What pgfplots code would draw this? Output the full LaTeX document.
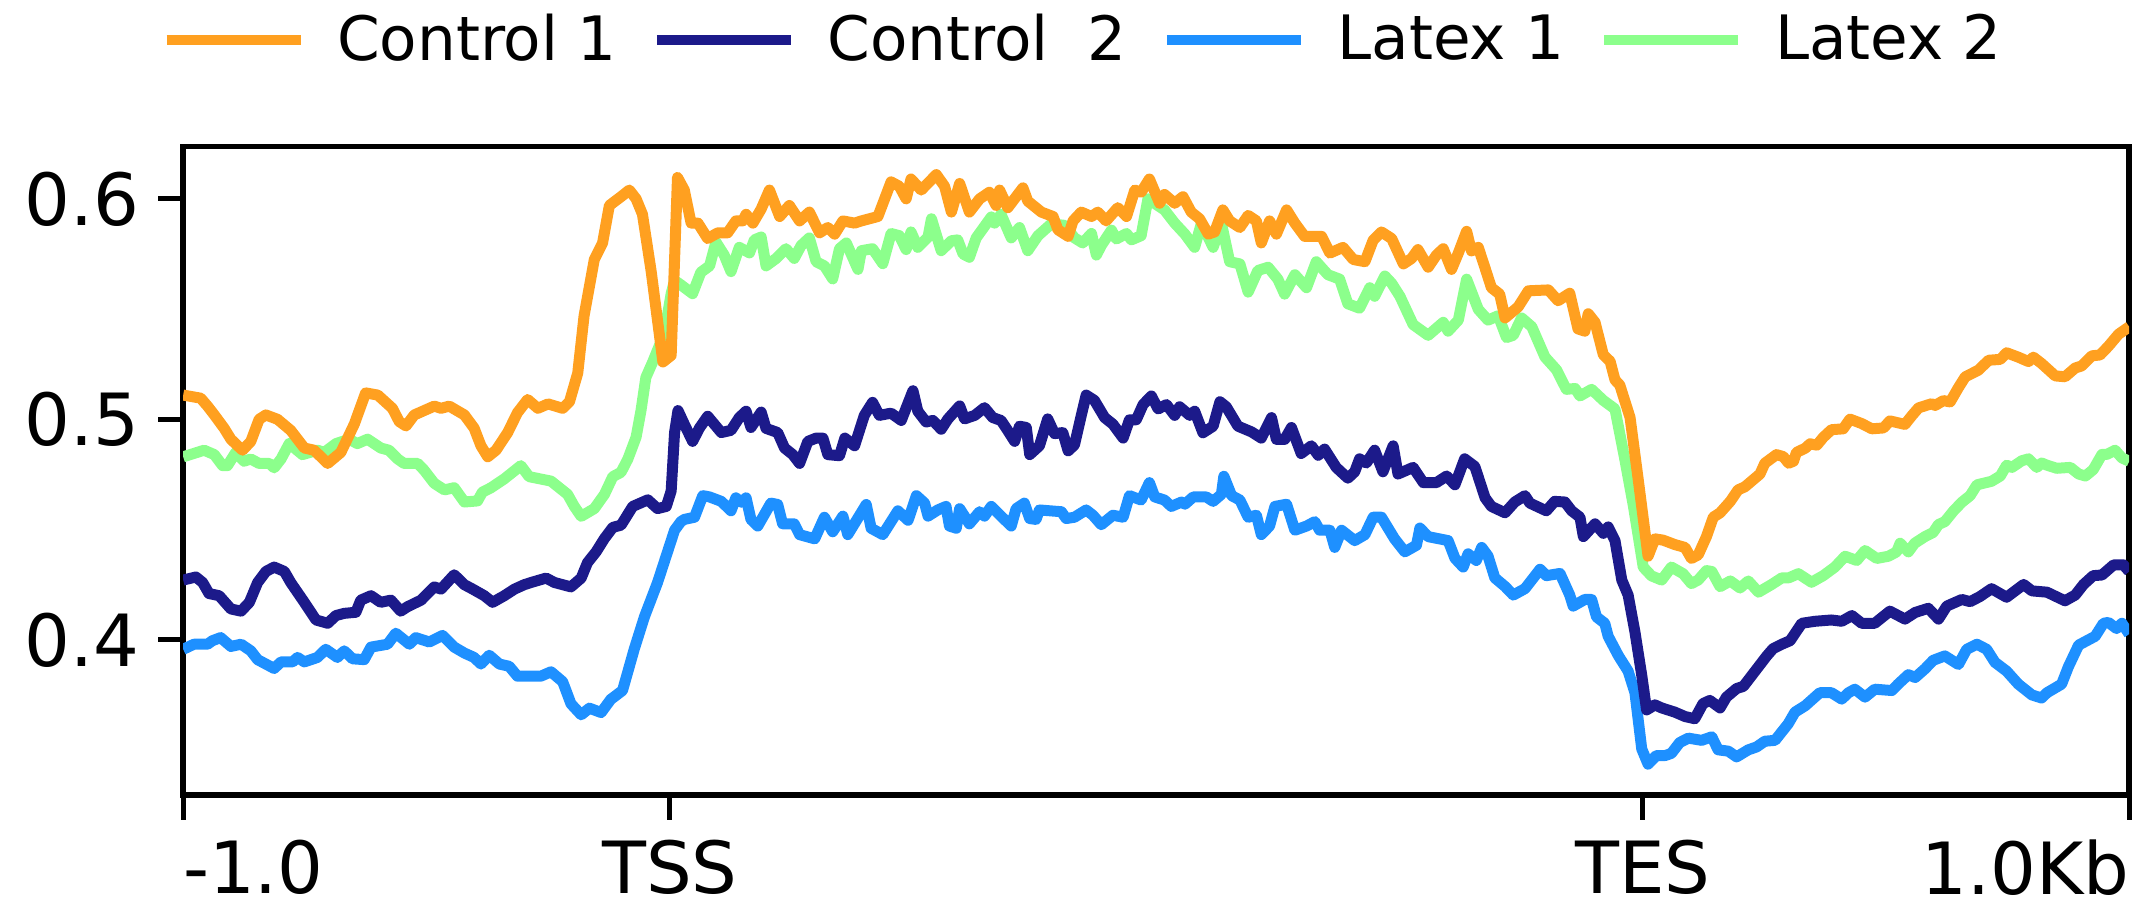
\documentclass[border=0pt]{standalone}
\usepackage{fontspec}
\setmainfont{DejaVu Sans}
\usepackage{pgfplots}
\pgfplotsset{compat=1.18}

\definecolor{cOrange}{HTML}{FFA020}
\definecolor{cNavy}{HTML}{1C1A8A}
\definecolor{cBlue}{HTML}{1E90FF}
\definecolor{cGreen}{HTML}{8CFF8C}

\begin{document}
\begin{tikzpicture}
\begin{axis}[
    name=ax,
    scale only axis,
    width=486.5pt, height=162.1pt,
    xmin=0, xmax=400, ymin=0.3297, ymax=0.6238,
    axis line style={line width=1.4pt},
    tick align=outside,
    tick pos=left,
    major tick length=6.25pt,
    every tick/.style={black, line width=1.2pt},
    xtick={0,100,300,400},
    xticklabels={\rlap{-1.0},TSS,TES,\llap{1.0Kb}},
    ytick={0.4,0.5,0.6},
    yticklabels={0.4,0.5,0.6},
    tick label style={font=\fontsize{18}{18}\selectfont},
    xticklabel style={yshift=-1.5pt},
    yticklabel style={xshift=-1.25pt},
    legend columns=4,
    legend style={at={(0.4617,1.164)}, anchor=center, draw=none, fill=none,
        font=\fontsize{15.3}{16}\selectfont, inner sep=0pt,
        nodes={inner sep=0pt},
        /tikz/every odd column/.append style={column sep=7.9pt},
        /tikz/every even column/.append style={column sep=8.8pt}},
    legend image code/.code={\draw[#1, line width=2.5pt] (0pt,0pt) -- (33.5pt,0pt);},
    every axis plot/.append style={line width=2.75pt, line join=round},
]
\addlegendimage{cOrange}\addlegendentry{Control 1}
\addlegendimage{cNavy}\addlegendentry{Control\ \ 2}
\addlegendimage{cBlue}\addlegendentry{Latex 1}
\addlegendimage{cGreen}\addlegendentry{Latex 2}

% Latex 2
\addplot[cGreen, forget plot] coordinates {
(0,0.483) (4.3,0.486) (6.4,0.484) (8.1,0.479) (9.1,0.479) (10.8,0.485) (12.5,0.481) (13.9,0.482)
(15.6,0.480) (17.7,0.480) (18.7,0.478) (20.1,0.482) (21.8,0.489) (24.5,0.484) (27.6,0.486) (29,0.485)
(31.4,0.489) (34.1,0.491) (35.8,0.489) (37.9,0.491) (40.6,0.487) (42.3,0.486) (44.1,0.482) (45.4,0.480)
(48.2,0.480) (49.5,0.477) (51.6,0.471) (53.7,0.468) (55.7,0.469) (57.8,0.4625) (60.5,0.463) (61.5,0.467)
(63.3,0.469) (66,0.473) (69.4,0.479) (71.1,0.474) (75.6,0.472) (79,0.466) (80.4,0.4605) (81.8,0.456)
(84.5,0.4595) (86.6,0.466) (88.3,0.474) (90,0.476) (91.4,0.482) (93.1,0.492) (94.1,0.504) (95.1,0.519)
(96.5,0.526) (98.9,0.539) (100.3,0.557) (101,0.563) (102.3,0.561) (104.7,0.557) (106.4,0.5667) (108.2,0.5696)
(109.5,0.5804) (111.2,0.5745) (112.6,0.567) (114.3,0.578) (116.4,0.5755) (117.4,0.5814) (118.8,0.5827) (119.8,0.5696)
(121.9,0.573) (123.9,0.5774) (125.6,0.573) (127,0.5788) (128.7,0.5823) (130.1,0.5715) (131.8,0.5696) (133.5,0.5637)
(134.9,0.5774) (136.3,0.580) (138.7,0.568) (139.4,0.5765) (141.7,0.5774) (143.8,0.5706) (145.5,0.5843) (147.2,0.5833)
(148.6,0.577) (149.6,0.585) (151,0.578) (153.1,0.5827) (153.8,0.591) (155.8,0.5765) (157.9,0.581) (159.2,0.5814)
(160.3,0.575) (161.6,0.5735) (163,0.5823) (166.1,0.5918) (166.8,0.589) (168.1,0.593) (170.2,0.5823) (171.9,0.587)
(173.6,0.5765) (175.7,0.5833) (178.4,0.5886) (181.2,0.588) (183.2,0.5823) (184.9,0.580) (186.7,0.5843) (187.7,0.5745)
(188.7,0.5788) (190.8,0.5858) (191.8,0.5818) (193.9,0.5843) (194.9,0.5814) (196.9,0.5833) (198.3,0.600) (201.7,0.595)
(203.8,0.589) (205.9,0.584) (207.9,0.578) (209.3,0.589) (211.7,0.578) (213.4,0.589) (215.1,0.5715) (217.2,0.5705)
(218.9,0.5577) (220.9,0.5675) (223,0.569) (225,0.5636) (226.4,0.5568) (228.5,0.5656) (230.9,0.5597) (232.9,0.5715)
(235.3,0.5656) (237.7,0.5636) (239.4,0.5524) (241.8,0.5504) (243.9,0.5597) (244.9,0.5558) (247,0.565) (248.4,0.5617)
(250.1,0.5558) (252.8,0.543) (255.9,0.5381) (259,0.544) (260,0.540) (262.1,0.545) (263.8,0.5636) (266.2,0.5499)
(268.2,0.545) (270.3,0.547) (272,0.5371) (273.4,0.5381) (275.1,0.546) (277.2,0.542) (279.9,0.5283) (282.3,0.5224)
(284.3,0.5136) (286.1,0.514) (287.1,0.5106) (289.5,0.5136) (291.9,0.5086) (294.3,0.5047) (296.3,0.4821) (298.1,0.4605)
(300.1,0.433) (301.8,0.429) (303.9,0.4271) (305.9,0.433) (308.3,0.43) (310,0.4255) (311.4,0.4271) (313.1,0.4314)
(314.2,0.431) (315.9,0.4241) (318,0.4267) (320,0.4235) (321.7,0.4267) (323.8,0.4216) (326.5,0.4251) (328.6,0.4281)
(330,0.4281) (332,0.43) (334.7,0.4261) (337.1,0.4291) (339.5,0.433) (341.6,0.4379) (344,0.436) (345.7,0.4405)
(348.1,0.4369) (350.5,0.4379) (352.2,0.4399) (352.9,0.4438) (354.6,0.4399) (355.9,0.4438) (358,0.4468) (359.7,0.4487)
(360.8,0.4523) (362.1,0.4536) (363.9,0.4585) (365.6,0.4624) (367.3,0.4654) (368.7,0.4703) (371.7,0.4719) (373.5,0.4743)
(374.8,0.4792) (375.9,0.4782) (377.9,0.4812) (379.3,0.4821) (381,0.4782) (382,0.4802) (383.1,0.4792) (385.1,0.4778)
(387.9,0.4782) (389.6,0.4752) (391,0.4743) (392.6,0.4772) (394.4,0.4841) (395.4,0.4841) (397.1,0.486) (398.5,0.4825)
(400,0.481)
};

% Latex 1
\addplot[cBlue, forget plot] coordinates {
(0,0.3957) (2.2,0.398) (5,0.398) (6,0.3996) (7.7,0.401) (9.8,0.397) (11.9,0.398) (13.9,0.395)
(15.3,0.391) (18.7,0.387) (20.1,0.390) (22.5,0.390) (23.5,0.392) (24.9,0.390) (27.6,0.392) (29.3,0.3957)
(31.7,0.392) (33.1,0.395) (34.8,0.3914) (37.2,0.391) (38.6,0.3967) (42,0.398) (43.7,0.403) (46.5,0.398)
(47.8,0.401) (50.6,0.399) (53.3,0.402) (55.7,0.3967) (57.8,0.394) (59.8,0.392) (61.2,0.389) (62.9,0.393)
(65,0.389) (67,0.388) (68.7,0.3835) (71.1,0.3835) (73.5,0.3835) (75.6,0.3855) (78,0.381) (79.7,0.371)
(81.8,0.366) (83.5,0.369) (85.9,0.367) (87.9,0.373) (90.3,0.377) (92.7,0.3957) (94.8,0.4104) (97.5,0.426)
(101,0.4497) (102.3,0.4536) (103,0.4546) (105.1,0.4556) (106.8,0.4654) (108.2,0.4648) (110.6,0.4628) (112.6,0.4585)
(113.6,0.4644) (114.7,0.4624) (115.7,0.4644) (116.7,0.4546) (118.1,0.4516) (120.8,0.462) (122.2,0.4614) (123.2,0.4526)
(125.6,0.4526) (126.7,0.4477) (129.8,0.4458) (131.8,0.4556) (133.5,0.449) (135.6,0.4561) (136.6,0.4477) (140.4,0.4614)
(141.4,0.4506) (143.8,0.4477) (146.9,0.4585) (149,0.4542) (150.7,0.4654) (152.4,0.462) (153.1,0.4561) (155.1,0.4589)
(156.8,0.4605) (157.5,0.4516) (158.9,0.4506) (159.6,0.4595) (161.6,0.4526) (163.7,0.4581) (164.7,0.4561) (166.1,0.4605)
(168.8,0.4546) (170.2,0.4516) (171.2,0.4595) (172.9,0.462) (174,0.455) (175.3,0.4546) (176,0.4589) (180.5,0.4581)
(181.5,0.455) (183.2,0.4556) (185.6,0.4589) (187,0.4565) (188.7,0.4522) (191.1,0.4565) (193.2,0.4556) (194.5,0.4654)
(196.9,0.4634) (198.6,0.4713) (199.7,0.4648) (201.7,0.4634) (203.1,0.4605) (205.2,0.4625) (205.9,0.4615) (207.6,0.4648)
(210.3,0.4648) (211.7,0.4628) (213.4,0.466) (213.9,0.4742) (215.5,0.4654) (217.2,0.4634) (218.9,0.4556) (220.6,0.4565)
(221.6,0.4477) (223.3,0.4516) (224.4,0.4605) (226.8,0.4615) (228.5,0.4497) (230.9,0.4516) (232.6,0.4536) (233.6,0.4497)
(235.7,0.4497) (236.7,0.4419) (238.1,0.4497) (240.8,0.445) (242.9,0.4477) (244.6,0.4556) (246.3,0.4556) (249,0.4458)
(251.1,0.4399) (253.5,0.4429) (254.2,0.4507) (255.9,0.4468) (260,0.445) (261.4,0.437) (263.1,0.433) (264.1,0.439)
(265.8,0.436) (266.9,0.4419) (268.2,0.438) (269.6,0.4281) (271.7,0.4242) (273.4,0.4203) (275.8,0.4232) (278.9,0.432)
(280.2,0.4291) (283,0.4301) (285,0.4203) (285.7,0.4153) (288.1,0.4183) (289.5,0.4183) (290.5,0.4104) (292.2,0.4075)
(292.9,0.4016) (295,0.3928) (297,0.3858) (298.4,0.376) (299.8,0.3505) (301.1,0.3436) (302.8,0.3475) (304.6,0.3475)
(305.9,0.3485) (307.6,0.3534) (309.4,0.3554) (312.1,0.3544) (314.2,0.356) (315.5,0.3501) (317.6,0.3495) (319.3,0.3469)
(321.7,0.3501) (323.4,0.3514) (325.1,0.354) (327.2,0.3544) (329.9,0.3619) (331.3,0.3672) (333.4,0.3701) (336.4,0.376)
(338.8,0.376) (340.9,0.3731) (342.3,0.376) (343.6,0.3776) (345.7,0.374) (347.7,0.3776) (351.2,0.377) (352.5,0.3799)
(354.6,0.3842) (356,0.3829) (358,0.3868) (359.7,0.3907) (362.1,0.3927) (364.9,0.3888) (366.6,0.3957) (368.7,0.398)
(370.7,0.3957) (372.4,0.3898) (374.8,0.3858) (377.2,0.3799) (380,0.375) (382,0.3736) (383.1,0.376) (386.1,0.3799)
(387.5,0.3878) (389.6,0.3976) (393,0.4016) (394.7,0.4075) (395.7,0.4079) (397.4,0.4051) (398.5,0.4075) (400,0.4026)
};

% Control 2
\addplot[cNavy, forget plot] coordinates {
(0,0.4271) (2.6,0.4285) (4,0.426) (5.3,0.421) (7.4,0.420) (9.8,0.414) (11.9,0.413) (13.6,0.417)
(15.3,0.426) (17,0.431) (18.7,0.433) (20.8,0.431) (22.1,0.426) (24.9,0.417) (27.3,0.409) (29.7,0.4075)
(31.4,0.411) (33.1,0.412) (35.5,0.4125) (36.5,0.418) (38.6,0.420) (40.6,0.417) (42.7,0.418) (44.7,0.413)
(46.1,0.415) (48.9,0.418) (51.6,0.424) (53,0.423) (55.7,0.4295) (57.8,0.425) (59.5,0.423) (61.9,0.420)
(63.6,0.417) (66,0.420) (68.1,0.423) (70.1,0.425) (71.5,0.426) (74.6,0.428) (76.3,0.426) (79.7,0.424)
(81.8,0.428) (83.1,0.435) (84.9,0.440) (86.6,0.446) (88.3,0.451) (90,0.452) (92.4,0.4605) (95.5,0.4635)
(97.5,0.4595) (99.3,0.4605) (100.3,0.4675) (101,0.494) (101.7,0.504) (103,0.4978) (104.7,0.490) (106.1,0.496)
(107.8,0.5014) (110.6,0.494) (112.6,0.495) (114.3,0.5008) (115.7,0.5037) (116.7,0.4963) (118.8,0.5033) (119.8,0.4959)
(122.2,0.494) (123.6,0.487) (125.3,0.484) (126.7,0.480) (128.4,0.490) (130.1,0.4915) (131.5,0.4915) (132.5,0.484)
(134.9,0.4835) (136,0.4915) (138,0.488) (140,0.5018) (141.7,0.5077) (143.1,0.5018) (145.5,0.5028) (147.6,0.4995)
(150,0.513) (151,0.5037) (152.7,0.4988) (154.1,0.4995) (155.8,0.4955) (157.2,0.5002) (159.6,0.5061) (160.6,0.5002)
(162.7,0.5018) (164.7,0.5053) (166.4,0.5008) (168.1,0.4995) (169.2,0.4959) (170.9,0.490) (171.9,0.4969) (173.3,0.4963)
(174,0.484) (176,0.488) (177.7,0.5002) (179.1,0.4935) (180.8,0.494) (181.9,0.4857) (183.2,0.4884) (184.6,0.5018)
(185.6,0.511) (187.3,0.5086) (189.4,0.5008) (191.1,0.4978) (193.2,0.4915) (194.5,0.4998) (195.9,0.4998) (197.3,0.5067)
(199,0.5106) (200.4,0.5047) (202.1,0.5067) (203.8,0.5018) (204.8,0.5057) (206.9,0.5018) (207.9,0.5037) (209.6,0.4939)
(211.7,0.4969) (213.1,0.508) (214.4,0.5057) (216.8,0.4969) (219.6,0.4943) (221.6,0.4915) (223.7,0.5008) (224.7,0.4909)
(226.4,0.4909) (227.8,0.4963) (229.8,0.4845) (231.9,0.488) (233.3,0.4837) (234.6,0.4865) (237,0.4782) (239.4,0.4733)
(240.8,0.4762) (241.8,0.4821) (243.2,0.4802) (244.9,0.486) (246.6,0.4762) (248.7,0.488) (249.7,0.4752) (252.8,0.4782)
(254.9,0.4713) (257.6,0.4713) (259.7,0.4743) (261.4,0.4703) (263.4,0.4821) (265.5,0.4786) (267.6,0.4644) (268.9,0.4605)
(271.7,0.4576) (273.7,0.4625) (275.8,0.4654) (276.8,0.462) (280.2,0.4585) (281.9,0.4628) (284,0.4625) (285.4,0.4585)
(287.1,0.4556) (287.8,0.4468) (290.2,0.4526) (291.9,0.4483) (292.9,0.4512) (294.3,0.445) (295.7,0.4271) (297,0.4203)
(298.4,0.4036) (299.8,0.3839) (300.8,0.3682) (302.5,0.3705) (303.9,0.3691) (306.6,0.3672) (308.7,0.3652) (310.7,0.3642)
(312.4,0.3711) (313.8,0.3725) (315.9,0.3691) (317.2,0.374) (319.3,0.3779) (320.7,0.3789) (323.1,0.3858) (325.5,0.3927)
(326.8,0.396) (328.6,0.398) (330.3,0.3996) (332.7,0.4075) (335.4,0.4084) (338.8,0.409) (340.9,0.4084) (343,0.411)
(345,0.4075) (347.7,0.4075) (350.8,0.413) (353.9,0.4094) (356,0.4124) (358.7,0.4143) (360.8,0.4094) (362.5,0.4153)
(365.6,0.4183) (367.3,0.4173) (369.3,0.4196) (371.7,0.4232) (374.8,0.4193) (378.3,0.4251) (380,0.4222) (383.1,0.4216)
(386.8,0.4177) (388.9,0.4203) (390.6,0.4251) (392.6,0.4291) (394.4,0.4294) (396.8,0.434) (398.8,0.434) (400,0.431)
};

% Control 1
\addplot[cOrange, forget plot] coordinates {
(0,0.511) (3.6,0.5096) (5,0.506) (6.4,0.502) (8.4,0.496) (9.8,0.491) (11.2,0.488) (12.2,0.486)
(13.9,0.490) (15.6,0.500) (17,0.502) (19.4,0.500) (22.1,0.495) (24.9,0.487) (26.9,0.486) (29.7,0.480)
(32.4,0.485) (35.2,0.498) (37.5,0.512) (40,0.511) (43,0.505) (44.4,0.499) (45.8,0.497) (47.5,0.502)
(51.6,0.506) (53,0.505) (54.7,0.506) (57.8,0.502) (59.8,0.496) (61.2,0.488) (62.6,0.483) (64.3,0.486)
(66.7,0.494) (68.7,0.503) (70.8,0.509) (72.9,0.505) (75,0.507) (78,0.505) (79.4,0.508) (81.1,0.521)
(82.4,0.547) (84.5,0.5725) (86.2,0.580) (87.6,0.597) (90,0.601) (91.7,0.604) (93.1,0.600) (94.4,0.593)
(96.2,0.567) (98.6,0.526) (100.3,0.529) (101.6,0.6097) (103,0.604) (104.4,0.589) (105.8,0.589) (107.8,0.582)
(109.9,0.5846) (111.9,0.5846) (113.6,0.590) (115,0.590) (115.7,0.593) (117.1,0.589) (118.8,0.5954) (120.5,0.604)
(122.6,0.592) (124.6,0.597) (126.7,0.590) (128.7,0.594) (130.8,0.5846) (132.5,0.587) (133.9,0.584) (135.6,0.590)
(138,0.589) (139.4,0.590) (142.8,0.592) (145.5,0.6077) (147.2,0.6057) (148.6,0.600) (149.6,0.609) (151.7,0.604)
(154.8,0.611) (156.5,0.6057) (157.9,0.594) (159.6,0.607) (161.6,0.594) (163.7,0.600) (165.7,0.603) (167.1,0.597)
(167.8,0.604) (169.5,0.596) (172.6,0.605) (173.6,0.599) (176.4,0.594) (178.8,0.592) (179.8,0.586) (181.9,0.583)
(182.9,0.590) (184.6,0.594) (186.7,0.592) (188,0.594) (189.7,0.590) (192.1,0.596) (193.9,0.592) (195.6,0.604)
(196.9,0.603) (198.6,0.609) (200.7,0.598) (201.7,0.602) (203.8,0.598) (205.5,0.601) (207.2,0.594) (208.9,0.591)
(210.7,0.584) (212,0.585) (213.7,0.595) (215.1,0.590) (217.2,0.587) (218.9,0.5925) (220.6,0.590) (221.6,0.580)
(223.3,0.590) (224.7,0.584) (226.8,0.595) (228.5,0.589) (230.5,0.583) (234,0.583) (235.7,0.5754) (238.4,0.578)
(240.5,0.5725) (242.9,0.5715) (244.6,0.5813) (246.3,0.585) (248.4,0.582) (250.8,0.5705) (252.5,0.573) (253.8,0.577)
(255.9,0.569) (257.6,0.5745) (259,0.5774) (260.7,0.568) (262.1,0.5754) (263.8,0.5853) (264.8,0.5764) (266.2,0.578)
(267.6,0.5686) (268.9,0.5597) (270.6,0.5568) (271.7,0.546) (274.4,0.551) (276.5,0.5583) (280.6,0.5587) (282.6,0.5538)
(285,0.5572) (286.7,0.541) (288.1,0.540) (288.8,0.5479) (290.2,0.544) (291.9,0.5293) (293.3,0.5263) (294.3,0.5179)
(295.3,0.5155) (297.4,0.5008) (299.1,0.4723) (301.1,0.4379) (302.5,0.4458) (304.2,0.4452) (306.6,0.4432) (308.7,0.4419)
(310,0.4369) (311.4,0.4385) (313.1,0.4468) (314.5,0.4556) (315.9,0.4576) (318,0.4628) (319.6,0.468) (321,0.4694)
(324.1,0.4752) (325.1,0.4801) (327.5,0.484) (328.9,0.4831) (330,0.4801) (331,0.481) (331.6,0.485) (333.4,0.4869)
(334.4,0.4889) (335.8,0.4883) (337.1,0.4918) (338.8,0.4953) (341.2,0.4957) (342.6,0.5001) (345,0.4981) (347.1,0.4957)
(349.5,0.4961) (350.8,0.4993) (353.9,0.4977) (355.3,0.5016) (356.7,0.5052) (359.4,0.5071) (360.1,0.5063) (361.8,0.5085)
(363.2,0.5079) (364.9,0.5144) (366.3,0.5193) (369,0.5223) (371.1,0.5268) (373.5,0.5272) (374.8,0.5302) (377.2,0.5282)
(379.3,0.5262) (380.3,0.5282) (382,0.5253) (384.8,0.5197) (386.8,0.5193) (388.9,0.5233) (390.2,0.5242) (392.3,0.5288)
(394,0.5292) (395.7,0.5331) (397.8,0.5386) (400,0.542)
};
\end{axis}
\path ([shift={(-45.8pt,-29.25pt)}]ax.south west) rectangle ([shift={(5.2pt,36.6pt)}]ax.north east);
\end{tikzpicture}
\end{document}
